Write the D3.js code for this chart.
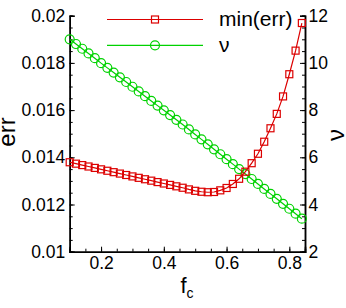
<!DOCTYPE html>
<html>
<head>
<meta charset="utf-8">
<script src="https://cdn.jsdelivr.net/npm/d3@7"></script>
<style>
  body { margin: 0; background: #fff; }
  text { font-family: "Liberation Sans", Arial, sans-serif; fill: #000; }
</style>
</head>
<body>
<script>
// fc sample points
var fc = [0.10, 0.12, 0.14, 0.16, 0.18, 0.20, 0.22, 0.24, 0.26, 0.28,
          0.30, 0.32, 0.34, 0.36, 0.38, 0.40, 0.42, 0.44, 0.46, 0.48,
          0.50, 0.52, 0.54, 0.56, 0.58, 0.60, 0.62, 0.64, 0.66, 0.68,
          0.70, 0.72, 0.74, 0.76, 0.78, 0.80, 0.82, 0.84];
// min(err), left axis
var minErr = [0.01379, 0.01373, 0.01367, 0.01361, 0.01355, 0.01349, 0.01343, 0.01337, 0.01331, 0.01325,
              0.01319, 0.01313, 0.01307, 0.01301, 0.01295, 0.01289, 0.01283, 0.01277, 0.01271, 0.01264,
              0.01258, 0.01254, 0.01252, 0.01253, 0.01260, 0.01270, 0.01287, 0.01309, 0.01339, 0.01375,
              0.01415, 0.01466, 0.01523, 0.01584, 0.01658, 0.01752, 0.01852, 0.01969];
// nu, right axis
var nu = [11.00, 10.80, 10.60, 10.40, 10.20, 9.99, 9.79, 9.59, 9.39, 9.19,
          8.99, 8.79, 8.59, 8.39, 8.19, 7.99, 7.79, 7.59, 7.39, 7.18,
          6.97, 6.76, 6.55, 6.34, 6.13, 5.92, 5.71, 5.50, 5.29, 5.08,
          4.87, 4.66, 4.45, 4.24, 4.03, 3.82, 3.61, 3.40];

var xTicks = [0.2, 0.4, 0.6, 0.8];
var errTicks = [0.01, 0.012, 0.014, 0.016, 0.018, 0.02];
var nuTicks = [2, 4, 6, 8, 10, 12];

var red = "#dc0000",
    green = "#00d200";

var width = 346, height = 308;
var plotLeft = 69.7, plotRight = 305, plotTop = 15.7, plotBottom = 251.7;

var svg = d3.select("body").append("svg")
    .attr("width", width)
    .attr("height", height);

var x = d3.scaleLinear().domain([0.1, 0.85]).range([plotLeft, plotRight]);
var yErr = d3.scaleLinear().domain([0.01, 0.02]).range([plotBottom, plotTop]);
var yNu = d3.scaleLinear().domain([2, 12]).range([plotBottom, plotTop]);

//minor ticks
function minors(lo, hi, step){
    var out = [];
    for (var v = lo; v <= hi + 1e-9; v += step) out.push(+v.toFixed(6));
    return out;
}

var axisFont = "17.5px";

//bottom axis
var xMinor = d3.axisTop(x).tickValues(minors(0.1, 0.85, 0.05)).tickSize(3).tickFormat("");
svg.append("g").attr("transform", "translate(0," + plotBottom + ")").call(xMinor);
var xAxis = d3.axisTop(x).tickValues(xTicks).tickSize(5).tickFormat(d3.format(".1f"));
var gx = svg.append("g").attr("transform", "translate(0," + plotBottom + ")").call(xAxis);
gx.selectAll("text").attr("y", 5).attr("dy", "0.71em").style("font-size", axisFont);

//left axis
var lMinor = d3.axisRight(yErr).tickValues(minors(0.01, 0.02, 0.0005)).tickSize(3).tickFormat("");
svg.append("g").attr("transform", "translate(" + plotLeft + ",0)").call(lMinor);
var lAxis = d3.axisRight(yErr).tickValues(errTicks).tickSize(5)
    .tickFormat(function(d){ return d === 0.02 ? "0.02" : d === 0.01 ? "0.01" : d3.format(".3f")(d); });
var gl = svg.append("g").attr("transform", "translate(" + plotLeft + ",0)").call(lAxis);
gl.selectAll("text").attr("x", -4.5).attr("text-anchor", "end").style("font-size", axisFont);

//right axis
var rMinor = d3.axisLeft(yNu).tickValues(minors(2, 12, 0.5)).tickSize(3).tickFormat("");
svg.append("g").attr("transform", "translate(" + plotRight + ",0)").call(rMinor);
var rAxis = d3.axisLeft(yNu).tickValues(nuTicks).tickSize(5);
var gr = svg.append("g").attr("transform", "translate(" + plotRight + ",0)").call(rAxis);
gr.selectAll("text").attr("x", 3.5).attr("text-anchor", "start").style("font-size", axisFont);

svg.selectAll(".domain").attr("stroke-width", 1.5);
svg.selectAll(".tick line").attr("stroke-width", 1);

var pts = fc.map(function(f, i){ return { f: f, e: minErr[i], n: nu[i] }; });

//nu series
svg.append("path")
    .datum(pts)
    .attr("fill", "none")
    .attr("stroke", green)
    .attr("stroke-width", 1.2)
    .attr("d", d3.line().x(function(d){ return x(d.f); }).y(function(d){ return yNu(d.n); }));
svg.selectAll(".nuPt")
    .data(pts)
    .enter()
    .append("circle")
    .attr("class", "nuPt")
    .attr("cx", function(d){ return x(d.f); })
    .attr("cy", function(d){ return yNu(d.n); })
    .attr("r", 4.5)
    .attr("fill", "none")
    .attr("stroke", green)
    .attr("stroke-width", 1.2);

//min(err) series
svg.append("path")
    .datum(pts)
    .attr("fill", "none")
    .attr("stroke", red)
    .attr("stroke-width", 1.2)
    .attr("d", d3.line().x(function(d){ return x(d.f); }).y(function(d){ return yErr(d.e); }));
svg.selectAll(".errPt")
    .data(pts)
    .enter()
    .append("rect")
    .attr("class", "errPt")
    .attr("x", function(d){ return x(d.f) - 3.5; })
    .attr("y", function(d){ return yErr(d.e) - 3.5; })
    .attr("width", 7)
    .attr("height", 7)
    .attr("fill", "none")
    .attr("stroke", red)
    .attr("stroke-width", 1.2);

//legend
var legend = [
    { label: "min(err)", color: red, shape: "square", y: 19.5 },
    { label: "\u03bd", color: green, shape: "circle", y: 45.3 }
];
legend.forEach(function(l){
    svg.append("line")
        .attr("x1", 107).attr("x2", 203)
        .attr("y1", l.y).attr("y2", l.y)
        .attr("stroke", l.color).attr("stroke-width", 1.2);
    if (l.shape == "square") {
        svg.append("rect")
            .attr("x", 155 - 3.5).attr("y", l.y - 3.5)
            .attr("width", 7).attr("height", 7)
            .attr("fill", "none").attr("stroke", l.color).attr("stroke-width", 1.2);
    } else {
        svg.append("circle")
            .attr("cx", 155).attr("cy", l.y).attr("r", 4.5)
            .attr("fill", "none").attr("stroke", l.color).attr("stroke-width", 1.2);
    }
    svg.append("text")
        .attr("x", 219).attr("y", l.y)
        .attr("dy", "0.32em")
        .style("font-size", "21px")
        .text(l.label);
});

//axis titles
svg.append("text")
    .attr("transform", "translate(15," + 132 + ") rotate(-90)")
    .attr("text-anchor", "middle")
    .style("font-size", "24px")
    .text("err");

svg.append("text")
    .attr("transform", "translate(344," + 135 + ") rotate(-90)")
    .attr("text-anchor", "middle")
    .style("font-size", "24px")
    .text("\u03bd");

var fcLabel = svg.append("text")
    .attr("x", 187).attr("y", 293)
    .attr("text-anchor", "middle")
    .style("font-size", "22px")
    .text("f");
fcLabel.append("tspan")
    .attr("dy", 5)
    .style("font-size", "14px")
    .text("c");
</script>
</body>
</html>
